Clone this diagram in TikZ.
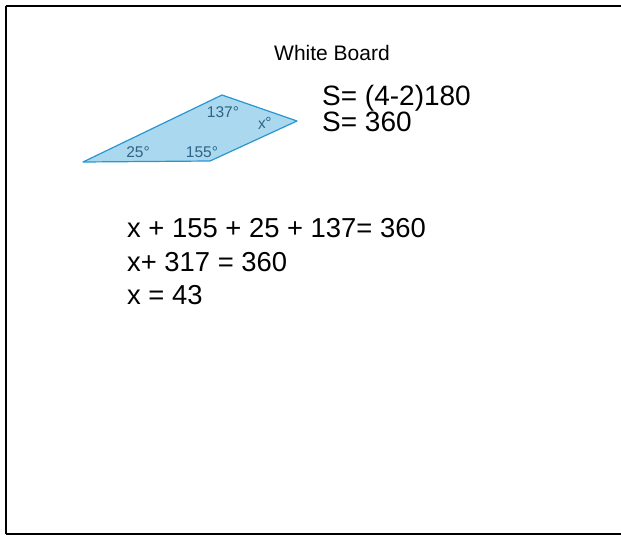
\documentclass[tikz,border=0pt]{standalone}
\usepackage{fontspec}
\setmainfont{Liberation Sans}
\usepackage{xcolor}
\usepackage{tikz}

\definecolor{quadfill}{RGB}{170,216,238}
\definecolor{quadline}{RGB}{40,150,210}
\definecolor{anglecol}{RGB}{45,100,135}

\tikzset{
    boardtext/.style={anchor=base west, inner sep=0pt, font=\fontsize{28}{30}\selectfont},
    worktext/.style={boardtext, font=\fontsize{27.4}{30}\selectfont},
    anglelabel/.style={inner sep=0pt, text=anglecol, font=\fontsize{15.5}{17}\selectfont},
    boardedge/.style={line width=2pt}
}

\begin{document}
\begin{tikzpicture}[x=1pt, y=-1pt]
    \useasboundingbox (0,0) rectangle (621,535);
    % board frame, open on the right
    \coordinate (tr) at (630,6);
    \coordinate (tl) at (5.5,6);
    \coordinate (bl) at (5.5,533.5);
    \coordinate (br) at (630,533.5);
    \draw[boardedge] (tl) -- (tr);
    \draw[boardedge] (tl) -- (bl);
    \draw[boardedge] (bl) -- (br);
    % quadrilateral
    \coordinate (L) at (83,162);
    \coordinate (T) at (222,95);
    \coordinate (R) at (297,121);
    \coordinate (B) at (210,161);
    \fill[quadfill] (L) -- (T) -- (R) -- (B) -- cycle;
    \draw[quadline, line width=1.2pt, line join=round] (L) -- (T) -- (R) -- (B) -- cycle;
    \node[anglelabel] (a137) at (223,112) {137°};
    \node[anglelabel, rotate=10] (ax) at (265,123) {\textit{x}°};
    \node[anglelabel] (a25) at (138,152) {25°};
    \node[anglelabel] (a155) at (202,152) {155°};
    % text
    \node[anchor=base, inner sep=0pt, font=\fontsize{21}{24}\selectfont] (title) at (332,61) {White Board};
    \node[boardtext] (s1) at (322,105) {S= (4-2)180};
    \node[boardtext] (s2) at (322,131) {S= 360};
    \node[worktext] (e1) at (127,237) {x + 155 + 25 + 137= 360};
    \node[worktext] (e2) at (127,271) {x+ 317 = 360};
    \node[worktext] (e3) at (127,304) {x = 43};
\end{tikzpicture}
\end{document}
